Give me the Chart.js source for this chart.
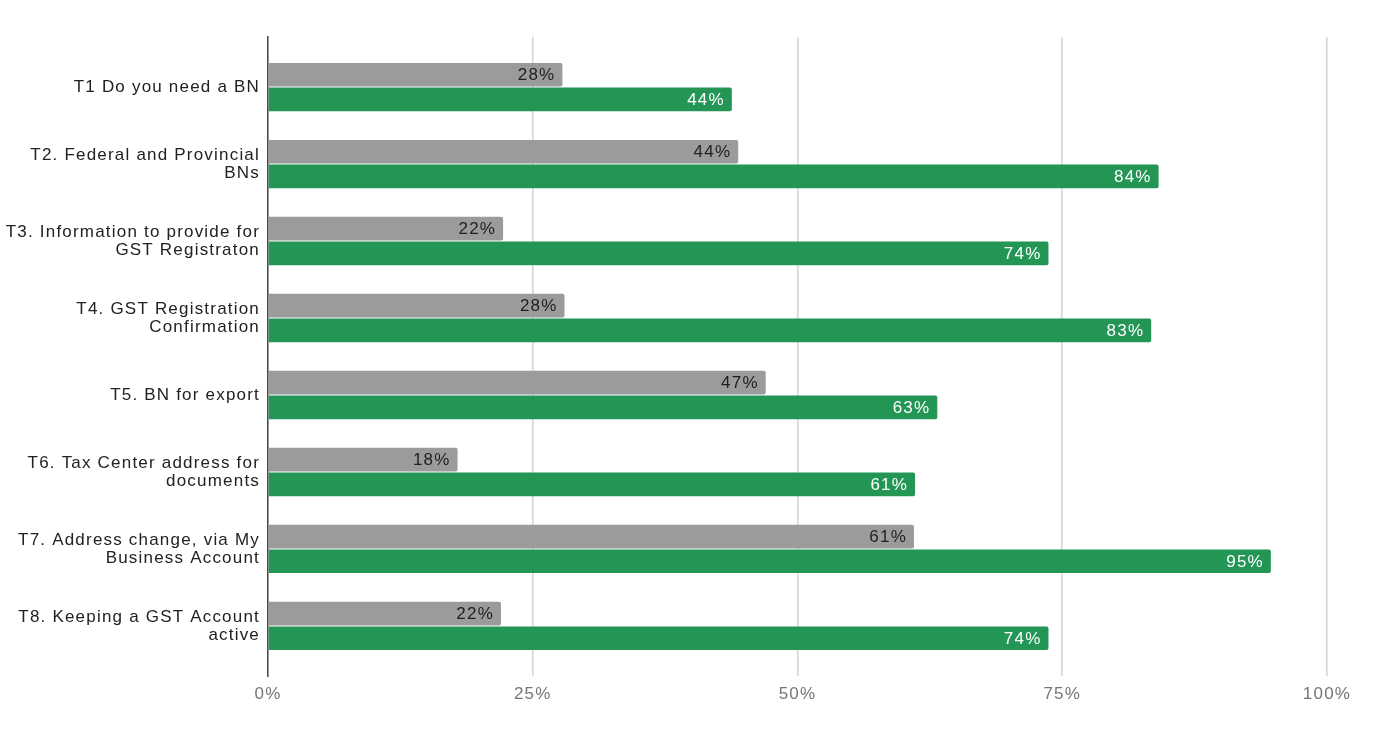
<!DOCTYPE html>
<html>
<head>
<meta charset="utf-8">
<script src="https://cdn.jsdelivr.net/npm/chart.js@4/dist/chart.umd.min.js"></script>
<style>
  html, body { margin: 0; padding: 0; background: #fff; }
  #wrap { width: 1375px; height: 741px; }
</style>
</head>
<body>
<div id="wrap"><canvas id="chart"></canvas></div>
<script>
// categories (top to bottom)
const topics = [
    ['T1 Do you need a BN'],
    ['T2. Federal and Provincial', 'BNs'],
    ['T3. Information to provide for', 'GST Registraton'],
    ['T4. GST Registration', 'Confirmation'],
    ['T5. BN for export'],
    ['T6. Tax Center address for', 'documents'],
    ['T7. Address change, via My', 'Business Account'],
    ['T8. Keeping a GST Account', 'active']
];
// grey series and green series, in percent
const greyValues = [27.8, 44.4, 22.2, 28.0, 47.0, 17.9, 61.0, 22.0];
const greenValues = [43.8, 84.1, 73.7, 83.4, 63.2, 61.1, 94.7, 73.7];
const xTicks = [0, 25, 50, 75, 100];

const labelFont = '"Liberation Sans", Arial, sans-serif';

// the reference text is a bit wider than the font, widen it slightly
const wideText = {
    id: 'wideText',
    beforeDraw(chart) { chart.ctx.letterSpacing = '1.2px'; }
};

// draws the value at the end of each bar
const barLabels = {
    id: 'barLabels',
    afterDatasetsDraw(chart) {
        const ctx = chart.ctx;
        ctx.save();
        ctx.font = '17px ' + labelFont;
        ctx.textAlign = 'right';
        ctx.textBaseline = 'middle';
        chart.data.datasets.forEach((ds, i) => {
            const meta = chart.getDatasetMeta(i);
            ctx.fillStyle = ds.labelColor;
            meta.data.forEach((bar, j) => {
                ctx.fillText(Math.round(ds.data[j].x) + '%', bar.x - 7, bar.y + 1);
            });
        });
        ctx.restore();
    }
};

const ctx = document.getElementById('chart').getContext('2d');
new Chart(ctx, {
    type: 'bar',
    data: {
        datasets: [{
            label: 'Before',
            data: greyValues.map((v, i) => ({ x: v, y: i })),
            backgroundColor: '#9b9b9b',
            labelColor: '#1f1f1f',
            borderRadius: 2,
            borderSkipped: 'start',
            categoryPercentage: 0.64,
            barPercentage: 0.96
        }, {
            label: 'After',
            data: greenValues.map((v, i) => ({ x: v, y: i })),
            backgroundColor: '#239656',
            labelColor: '#ffffff',
            borderRadius: 2,
            borderSkipped: 'start',
            categoryPercentage: 0.64,
            barPercentage: 0.96
        }]
    },
    options: {
        indexAxis: 'y',
        responsive: true,
        maintainAspectRatio: false,
        animation: false,
        layout: { padding: { top: 37, right: 48, left: 0, bottom: 0 } },
        plugins: {
            legend: { display: false },
            tooltip: { enabled: false }
        },
        scales: {
            x: {
                type: 'linear',
                min: 0,
                max: 100,
                afterBuildTicks(scale) { scale.ticks = xTicks.map(v => ({ value: v })); },
                afterFit(scale) { scale.height = 65; },
                ticks: {
                    callback: v => v + '%',
                    color: '#757575',
                    font: { size: 17, family: labelFont },
                    padding: 8
                },
                grid: { color: '#d6d6d6', lineWidth: 1.6, drawTicks: false },
                border: { display: false }
            },
            y: {
                type: 'linear',
                reverse: true,
                offset: false,
                min: -0.65,
                max: 7.65,
                afterBuildTicks(scale) { scale.ticks = topics.map((t, i) => ({ value: i })); },
                afterFit(scale) { scale.width = 268; },
                ticks: {
                    autoSkip: false,
                    callback: v => topics[v],
                    color: '#222222',
                    font: { size: 17, family: labelFont, lineHeight: 1.06 },
                    padding: 8
                },
                grid: { display: false, drawTicks: false, offset: false },
                border: { display: true, color: '#4a4a4a', width: 1.5 }
            }
        }
    },
    plugins: [wideText, barLabels]
});
</script>
</body>
</html>
